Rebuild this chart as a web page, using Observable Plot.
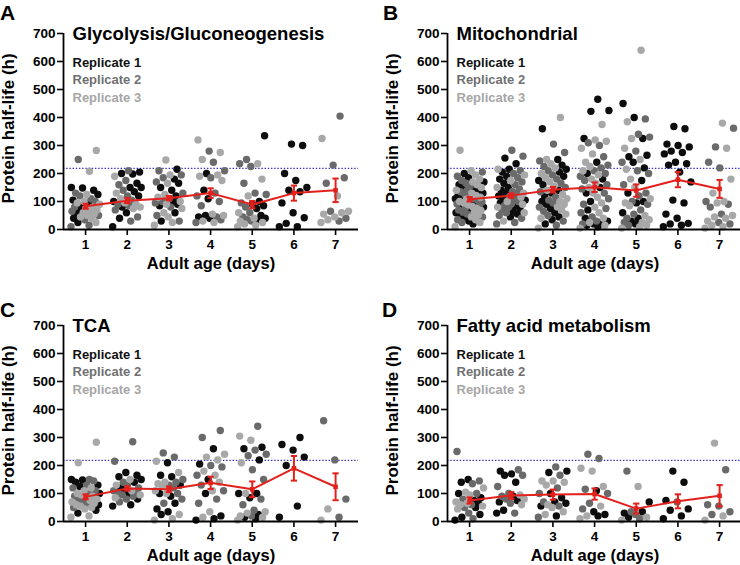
<!DOCTYPE html>
<html>
<head>
<meta charset="utf-8">
<script src="https://cdn.jsdelivr.net/npm/d3@7"></script>
<script src="https://cdn.jsdelivr.net/npm/@observablehq/plot@0.6"></script>
<style>
  html, body { margin: 0; padding: 0; background: #fff; }
  #chart { position: relative; width: 740px; height: 565px; overflow: hidden; background: #fff;
           font-family: "Liberation Sans", Arial, Helvetica, sans-serif; }
  .panel { position: absolute; width: 370px; height: 280px; }
  .letter { position: absolute; font-size: 21px; font-weight: bold; line-height: 1; color: #000; }
</style>
</head>
<body>
<div id="chart"></div>
<script>
// ---------- shared categories / ticks ----------
const days = [1, 2, 3, 4, 5, 6, 7];
const yTicks = [0, 100, 200, 300, 400, 500, 600, 700];
const threshold = 218;
const replicateNames = ["Replicate 1", "Replicate 2", "Replicate 3"];
const panelLetters = ["A", "B", "C", "D"];
const panelTitles = ["Glycolysis/Gluconeogenesis", "Mitochondrial", "TCA", "Fatty acid metabolism"];

// ---------- Panel A: Glycolysis/Gluconeogenesis (values per day, days 1..7) ----------
const glycoRep1 = [
  [150, 148, 140, 125, 105, 95, 85, 70, 55, 40, 25],
  [205, 200, 198, 165, 150, 150, 135, 120, 100, 80, 60, 40, 10],
  [215, 180, 165, 150, 140, 120, 100, 90, 85, 60, 30],
  [200, 140, 110, 50, 45, 40],
  [335, 100, 90, 85, 75, 50, 40, 35],
  [305, 300, 200, 175, 150, 140, 135, 95, 60, 42, 22, 10, 10],
  []
];
const glycoRep2 = [
  [250, 130, 120, 110, 100, 80, 65, 50, 35, 15, 10],
  [210, 175, 160, 140, 120, 105, 90, 85, 70, 45, 30],
  [210, 195, 185, 170, 130, 110, 100, 95, 80, 50, 30],
  [280, 240, 210, 185, 130, 120, 100, 85, 45, 35, 25],
  [250, 235, 225, 165, 130, 125, 95, 80, 60, 45, 35, 30],
  [],
  [405, 230, 185, 165, 65, 40, 30]
];
const glycoRep3 = [
  [282, 208, 125, 100, 95, 90, 80, 75, 70, 65, 60, 55, 50, 45, 40, 25],
  [190, 130, 110, 95, 90, 80, 75],
  [248, 195, 165, 125, 115, 100, 90, 75, 60, 45, 25, 15],
  [320, 275, 250, 195, 190, 175, 55, 50, 30, 25],
  [235, 180, 120, 60, 40, 30, 25, 20, 15, 10],
  [],
  [325, 120, 65, 60, 55, 45, 35, 25]
];
const glycoMean = [83, 103, 112, 130, 89, 130, 140];
const glycoSem = [9, 9, 8, 17, 13, 27, 42];

// ---------- Panel B: Mitochondrial ----------
const mitoRep1 = [
  [200, 185, 170, 160, 150, 145, 140, 130, 120, 115, 110, 100, 95, 85, 80, 70, 60, 50, 40, 30, 20],
  [255, 235, 215, 205, 190, 180, 165, 150, 140, 130, 120, 112, 105, 95, 85, 75, 65, 55, 45],
  [360, 250, 230, 215, 205, 190, 175, 160, 140, 130, 120, 100, 90, 75, 60, 45, 35, 20],
  [465, 425, 422, 325, 240, 200, 180, 150, 130, 100, 70, 40, 30, 25, 20, 15, 10],
  [450, 400, 325, 265, 260, 240, 220, 175, 130, 100, 95, 60, 40, 30, 20],
  [368, 360, 305, 300, 295, 280, 275, 270, 240, 235, 230, 205, 170, 105, 95, 55, 40, 22, 20, 15, 10],
  []
];
const mitoRep2 = [
  [205, 190, 175, 165, 155, 140, 135, 125, 118, 110, 105, 98, 92, 85, 78, 70, 62, 55, 45, 35, 25],
  [283, 262, 210, 200, 185, 170, 160, 145, 135, 125, 118, 110, 100, 92, 85, 80, 70, 60, 50, 40, 25, 20],
  [305, 275, 245, 225, 210, 195, 180, 165, 150, 135, 115, 105, 95, 80, 65, 50, 30, 15],
  [310, 300, 260, 230, 220, 210, 200, 190, 175, 160, 145, 130, 110, 90, 75, 60, 45, 30, 20],
  [395, 340, 330, 280, 240, 210, 200, 160, 130, 120, 100, 90, 70, 55, 40, 25, 15],
  [],
  [362, 295, 240, 220, 100, 90, 80, 55, 25, 20]
];
const mitoRep3 = [
  [283, 210, 195, 180, 170, 160, 150, 140, 130, 122, 115, 108, 100, 95, 88, 82, 75, 68, 60, 52, 45, 35, 25, 10],
  [215, 195, 175, 150, 130, 115, 100, 90, 80, 60, 30],
  [400, 250, 235, 220, 200, 185, 170, 155, 140, 125, 110, 100, 90, 80, 70, 55, 40, 5],
  [375, 320, 315, 290, 270, 240, 225, 210, 195, 180, 165, 150, 130, 115, 95, 80, 60, 40, 25, 15, 5],
  [640, 385, 325, 290, 250, 215, 180, 150, 110, 95, 85, 50, 35, 25, 15, 10, 5],
  [],
  [380, 290, 180, 130, 100, 95, 50, 45, 40, 30, 15, 10, 5]
];
const mitoMean = [108, 121, 142, 151, 139, 178, 145];
const mitoSem = [8, 8, 10, 17, 22, 27, 32];

// ---------- Panel C: TCA ----------
const tcaRep1 = [
  [150, 148, 140, 130, 125, 100, 85, 60, 40, 30],
  [175, 165, 160, 150, 140, 120, 110, 100, 80, 60, 55],
  [210, 165, 160, 130, 100, 90, 65, 45, 35, 25],
  [260, 205, 150, 100, 20, 10, 5],
  [265, 260, 220, 100, 100, 85, 25, 15, 10],
  [300, 275, 255, 230, 200, 55, 15],
  []
];
const tcaRep2 = [
  [150, 145, 130, 120, 110, 100, 90, 80, 70, 60, 50],
  [285, 215, 140, 130, 120, 110, 105, 100, 95, 90, 80, 70],
  [245, 230, 150, 140, 130, 120, 100, 80, 65],
  [325, 300, 200, 195, 165, 130, 110, 80, 65],
  [340, 255, 240, 235, 185, 150, 80, 60, 40, 20],
  [],
  [360, 220, 80, 15]
];
const tcaRep3 = [
  [283, 210, 120, 110, 100, 95, 90, 80, 75, 70, 65, 60, 55, 50, 45, 20, 15],
  [150, 130, 110, 95, 85],
  [215, 175, 140, 135, 125, 110, 100, 25, 10, 5],
  [240, 230, 220, 180, 165, 140, 110, 35, 15],
  [305, 290, 210, 100, 35, 30, 20, 15, 5],
  [],
  [45, 5]
];
const tcaMean = [88, 118, 115, 138, 115, 190, 124];
const tcaSem = [9, 8, 10, 22, 28, 44, 48];

// ---------- Panel D: Fatty acid metabolism ----------
const fattyRep1 = [
  [150, 140, 100, 85, 75, 65, 50, 25, 15, 5],
  [180, 170, 165, 140, 90, 75, 70, 40, 30],
  [180, 175, 100, 85, 70, 65, 55, 20],
  [110, 35, 20, 25],
  [70, 30, 35, 15],
  [180, 140, 75, 45, 40, 20, 10],
  []
];
const fattyRep2 = [
  [250, 145, 135, 100, 80, 60, 50, 30, 10],
  [185, 165, 125, 100, 90, 80, 65, 30],
  [195, 165, 120, 100, 70, 55, 15],
  [240, 225, 115, 100, 65, 45],
  [180, 25, 35, 10],
  [70],
  [185, 60, 55, 25, 35]
];
const fattyRep3 = [
  [120, 105, 95, 70, 65, 60, 55, 45],
  [95, 80, 60],
  [145, 140, 145, 130, 60, 50, 35, 25],
  [190, 180, 125, 55, 20, 10],
  [125, 15, 5],
  [],
  [280, 20, 5]
];
const fattyMean = [75, 93, 96, 98, 46, 72, 92];
const fattySem = [11, 12, 18, 20, 18, 25, 38];

// ---------- styling ----------
const repColors = ["#0d0d0d", "#6a6a6a", "#a8a8a8"];
const legendColors = ["#111111", "#707070", "#a6a6a6"];
const red = "#e3211c";
const fontFamily = '"Liberation Sans", Arial, Helvetica, sans-serif';
const xDomain = [0.47, 7.55];

function makeRows(r1, r2, r3) {
  const rows = [];
  days.forEach((day, di) => {
    const pts = [];
    [r1, r2, r3].forEach((rep, ri) => rep[di].forEach(v => pts.push({day, value: v, rep: replicateNames[ri]})));
    // deterministic horizontal spread (scatter-dot layout): neighbours in value get separated
    const sorted = pts.slice().sort((a, b) => a.value - b.value);
    sorted.forEach((p, k) => { p.off = (((k * 0.618034) % 1) - 0.5) * 0.7; });
    rows.push(...pts);
  });
  return rows;
}

function makePanel(title, r1, r2, r3, mean, sem) {
  const rows = makeRows(r1, r2, r3);
  const stats = days.map((d, i) => ({day: d, mean: mean[i], sem: sem[i]}));
  const capHalf = 0.075;
  return Plot.plot({
    width: 370, height: 280,
    marginLeft: 63, marginTop: 33, marginBottom: 51, marginRight: 12,
    style: {fontFamily, fontSize: "13.5px", fontWeight: "bold", color: "#000", background: "transparent", overflow: "visible"},
    x: {domain: xDomain},
    y: {domain: [0, 700]},
    color: {type: "ordinal", domain: replicateNames, range: repColors},
    marks: [
      Plot.ruleY([threshold], {stroke: "#3030c8", strokeWidth: 1.3, strokeDasharray: "1.4,1.8"}),
      Plot.dot(rows, {x: d => d.day + d.off, y: "value", r: 3.7, fill: "rep", stroke: "none"}),
      Plot.line(stats, {x: "day", y: "mean", stroke: red, strokeWidth: 2}),
      Plot.ruleX(stats, {x: "day", y1: d => d.mean - d.sem, y2: d => d.mean + d.sem, stroke: red, strokeWidth: 2}),
      Plot.link(stats, {x1: d => d.day - capHalf, x2: d => d.day + capHalf, y1: d => d.mean + d.sem, y2: d => d.mean + d.sem, stroke: red, strokeWidth: 2}),
      Plot.link(stats, {x1: d => d.day - capHalf, x2: d => d.day + capHalf, y1: d => d.mean - d.sem, y2: d => d.mean - d.sem, stroke: red, strokeWidth: 2}),
      Plot.dot(stats, {x: "day", y: "mean", symbol: "square", r: 2.6, fill: red}),
      Plot.ruleY([0], {stroke: "#000", strokeWidth: 1.8}),
      Plot.ruleX([xDomain[0]], {stroke: "#000", strokeWidth: 1.8}),
      Plot.axisY({ticks: yTicks, tickSize: 6, tickPadding: 2, label: null, strokeWidth: 1.6}),
      Plot.axisX({ticks: days, tickSize: 6, tickPadding: 4, label: null, tickFormat: d => String(d), strokeWidth: 1.6}),
      Plot.text([title], {text: d => d, frameAnchor: "top-left", dx: 9, dy: 1, textAnchor: "start", lineAnchor: "middle", fontSize: 18.5, fontWeight: "bold", fill: "#000"}),
      ...replicateNames.map((name, i) =>
        Plot.text([name], {text: d => d, frameAnchor: "top-left", dx: 9, dy: 29 + i * 17.5, textAnchor: "start", lineAnchor: "middle", fontSize: 13, fontWeight: "bold", fill: legendColors[i]})
      ),
      Plot.text(["Adult age (days)"], {text: d => d, frameAnchor: "bottom", dy: 34, textAnchor: "middle", lineAnchor: "middle", fontSize: 16.5, fontWeight: "bold", fill: "#000"}),
      Plot.text(["Protein half-life (h)"], {text: d => d, frameAnchor: "left", dx: -55, dy: -3, rotate: -90, textAnchor: "middle", lineAnchor: "middle", fontSize: 17, fontWeight: "bold", fill: "#000"})
    ]
  });
}

const chart = document.getElementById("chart");
const panels = [
  [glycoRep1, glycoRep2, glycoRep3, glycoMean, glycoSem],
  [mitoRep1, mitoRep2, mitoRep3, mitoMean, mitoSem],
  [tcaRep1, tcaRep2, tcaRep3, tcaMean, tcaSem],
  [fattyRep1, fattyRep2, fattyRep3, fattyMean, fattySem]
];
const panelPos = [[0, 0], [384, 0], [0, 292], [384, 292]];
const letterPos = [[0, 2], [383, 2], [0, 299], [382, 299]];

panels.forEach((p, i) => {
  const div = document.createElement("div");
  div.className = "panel";
  div.style.left = panelPos[i][0] + "px";
  div.style.top = panelPos[i][1] + "px";
  div.appendChild(makePanel(panelTitles[i], ...p));
  chart.appendChild(div);
  const L = document.createElement("div");
  L.className = "letter";
  L.textContent = panelLetters[i];
  L.style.left = letterPos[i][0] + "px";
  L.style.top = letterPos[i][1] + "px";
  chart.appendChild(L);
});
</script>
</body>
</html>
